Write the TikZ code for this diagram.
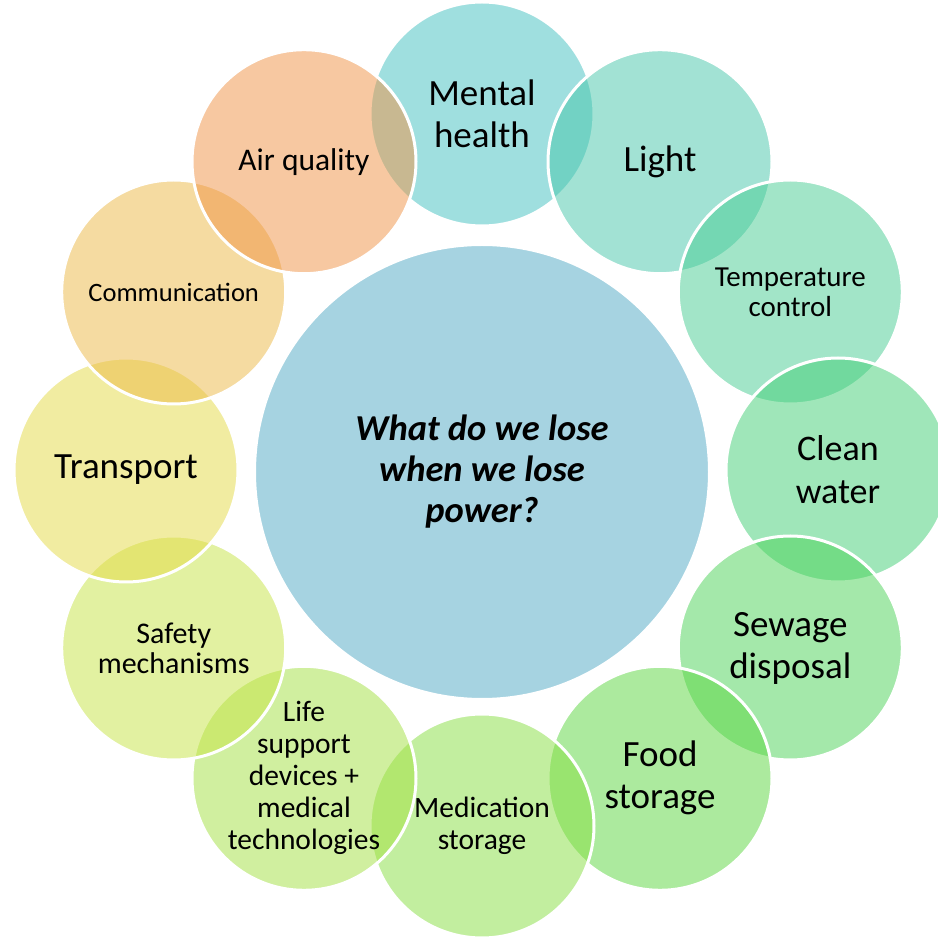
\documentclass[tikz,border=0pt]{standalone}
\usepackage{fontspec}
\setmainfont{Carlito}
\usetikzlibrary{calc}
\definecolor{cHub}{RGB}{166,211,225}
\definecolor{cMental}{RGB}{65,193,193}
\definecolor{cLight}{RGB}{71,199,171}
\definecolor{cTemp}{RGB}{71,205,147}
\definecolor{cClean}{RGB}{65,207,117}
\definecolor{cSewage}{RGB}{75,211,87}
\definecolor{cFood}{RGB}{91,215,63}
\definecolor{cMed}{RGB}{135,223,65}
\definecolor{cLife}{RGB}{163,225,65}
\definecolor{cSafety}{RGB}{199,229,69}
\definecolor{cTransport}{RGB}{229,219,69}
\definecolor{cComm}{RGB}{237,185,69}
\definecolor{cAir}{RGB}{241,147,69}
\tikzset{
  petal/.style={circle, minimum size=224pt, inner sep=0pt, draw=white, line width=3pt,
    fill opacity=0.5, text opacity=1, draw opacity=1, align=center, text=black},
  hubcircle/.style={circle, minimum size=454pt, inner sep=0pt, draw=white, line width=2pt,
    fill=cHub, align=center, text=black,
    font=\fontsize{36.5}{41}\selectfont\bfseries\itshape},
  bigtext/.style={font=\fontsize{37}{42}\selectfont},
}
\begin{document}
\begin{tikzpicture}[x=1pt,y=1pt]
\clip (0,0) rectangle (938,938);
\useasboundingbox (0,0) rectangle (938,938);
\fill[white] (0,0) rectangle (938,938);
\coordinate (c) at (482,468);
\node[hubcircle] (hub) at (482,466) {What do we lose\\when we lose\\power?};
\node[petal, fill=cMental, bigtext] (mental) at ($(c)+(90:356)$) {Mental\\health};
\node[petal, fill=cLight, bigtext] (light) at ($(c)+(60:356)$) {Light};
\node[petal, fill=cTemp, font=\fontsize{29}{30}\selectfont] (temp) at ($(c)+(30:356)$) {Temperature\\control};
\node[petal, fill=cClean, font=\fontsize{36}{43}\selectfont] (clean) at ($(c)+(0:356)$) {Clean\\water};
\node[petal, fill=cSewage, bigtext] (sewage) at ($(c)+(-30:356)$) {Sewage\\disposal};
\node[petal, fill=cFood, bigtext] (food) at ($(c)+(-60:356)$) {Food\\storage};
\node[petal, fill=cMed, font=\fontsize{29.5}{32}\selectfont] (med) at ($(c)+(-90:356)$) {Medication\\storage};
\node[petal, fill=cLife, font=\fontsize{29.5}{32}\selectfont] (life) at ($(c)+(-120:356)$) {Life\\support\\devices +\\medical\\technologies};
\node[petal, fill=cSafety, font=\fontsize{30}{30}\selectfont] (safety) at ($(c)+(-150:356)$) {Safety\\mechanisms};
\node[petal, fill=cTransport, bigtext] (transport) at ($(c)+(180:356)$) {Transport};
\node[petal, fill=cComm, font=\fontsize{26.5}{30}\selectfont] (comm) at ($(c)+(150:356)$) {Communication};
\node[petal, fill=cAir, font=\fontsize{31.5}{36}\selectfont] (air) at ($(c)+(120:356)$) {Air quality};
\end{tikzpicture}
\end{document}
